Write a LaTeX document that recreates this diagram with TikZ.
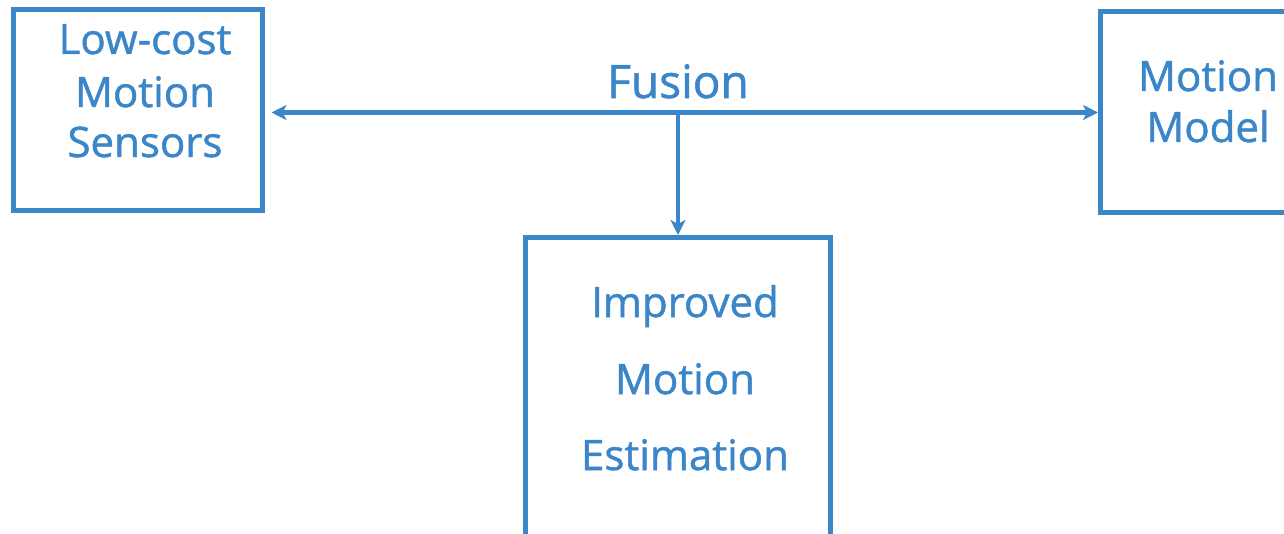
\documentclass[tikz,border=0pt]{standalone}
\usepackage{fontspec}
\setmainfont{Open Sans}[FakeBold=1.2]
\usetikzlibrary{arrows.meta}
\definecolor{boxblue}{RGB}{58,134,200}
\tikzset{
  blk/.style={draw=boxblue, line width=5pt, rectangle, inner sep=0pt, fill=white},
  lbl/.style={text=boxblue, font=\fontsize{42}{50}\selectfont, anchor=base, inner sep=0pt},
  mytip/.tip={Stealth[length=15pt, width=15pt, inset=4pt]},
  conn/.style={draw=boxblue, line width=4.5pt, arrows={-mytip}},
}
\begin{document}
\begin{tikzpicture}[x=1pt, y=-1pt]
\useasboundingbox (0,0) rectangle (1284,534);
\clip (0,0) rectangle (1284,534);
\node[blk, minimum width=249pt, minimum height=201pt] (L) at (137.5,110) {};
\node[blk, minimum width=260pt, minimum height=201pt] (R) at (1230.5,112) {};
\node[blk, minimum width=305pt, minimum height=330pt] (M) at (678,402.5) {};
\coordinate (h) at (678,112.5);
\draw[conn, arrows={mytip-mytip}, shorten <=7pt] (L.east |- h) -- (R.west |- h);
\draw[conn] ([yshift=-2pt]h) -- (M.north);
\node[lbl, font=\fontsize{46}{55}\selectfont] (fusion) at (678,98) {Fusion};
\node[lbl] (l1) at (145,54) {Low-cost};
\node[lbl] (l2) at (145,107) {Motion};
\node[lbl] (l3) at (145,157) {Sensors};
\node[lbl] (r1) at (1208,91) {Motion};
\node[lbl] (r2) at (1208,142) {Model};
\node[lbl] (m1) at (685,317) {Improved};
\node[lbl] (m2) at (685,394) {Motion};
\node[lbl] (m3) at (685,470) {Estimation};
\end{tikzpicture}
\end{document}
